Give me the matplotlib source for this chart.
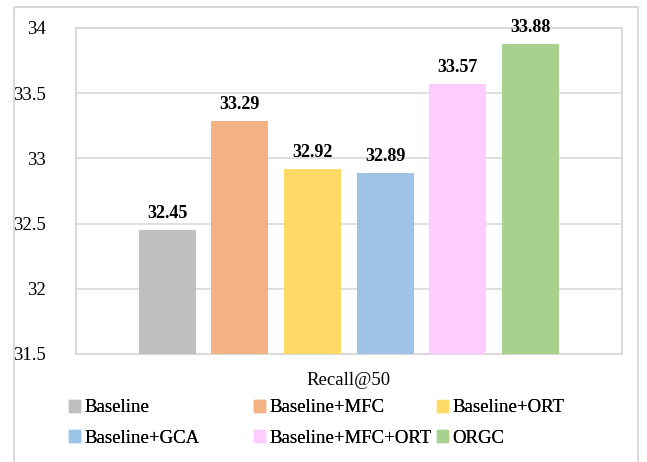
import matplotlib.pyplot as plt
import matplotlib.patches as mpatches
import numpy as np

# --- Data ---
methods = ['Baseline', 'Baseline+MFC', 'Baseline+ORT',
           'Baseline+GCA', 'Baseline+MFC+ORT', 'ORGC']
recall50 = [32.45, 33.29, 32.92, 32.89, 33.57, 33.88]
colors = ['#BFBFBF', '#F4B183', '#FFD966', '#9DC3E6', '#FFCCFF', '#A9D18E']
yticks = [31.5, 32, 32.5, 33, 33.5, 34]
ytick_labels = ['31.5', '32', '32.5', '33', '33.5', '34']

plt.rcParams['font.family'] = ['Liberation Serif', 'DejaVu Serif']

fig = plt.figure(figsize=(6.47, 4.62), dpi=100)
ax = fig.add_axes([76 / 647, 1 - 354 / 462, 546 / 647, 326 / 462])

x = np.arange(len(methods))
bars = ax.bar(x, recall50, width=0.784, color=colors, zorder=3)

for xi, v in zip(x, recall50):
    ax.text(xi, v + 0.06, f'{v:.2f}', ha='center', va='bottom',
            fontsize=13, fontweight='bold')

ax.set_xlim(-1.256, 6.262)
ax.set_ylim(31.5, 34)
ax.set_yticks(yticks)
ax.set_yticklabels(ytick_labels, fontsize=13.5)
ax.set_xticks([])
ax.tick_params(axis='y', length=0, pad=22)
ax.yaxis.grid(True, color='#D9D9D9', linewidth=1.2, zorder=0)
for s in ax.spines.values():
    s.set_color('#D9D9D9')
    s.set_linewidth(1.5)
ax.set_xlabel('Recall@50', fontsize=13.5, labelpad=13)

# legend: three columns, entries laid out row by row
col_x = [61, 246, 429]
for col in range(3):
    idx = [col, col + 3]
    handles = [mpatches.Patch(color=colors[i]) for i in idx]
    leg = fig.legend(handles, [methods[i] for i in idx], ncol=1, loc='upper left',
                     bbox_to_anchor=(col_x[col] / 647, 1 - 392 / 462), frameon=False,
                     fontsize=13.5, handlelength=0.6, handleheight=0.6,
                     handletextpad=0.25, labelspacing=0.72, borderaxespad=0)
    fig.add_artist(leg)

# outer frame
frame = mpatches.Rectangle((14 / 647, -0.05), (638 - 14) / 647, 1.05 - 7 / 462,
                           transform=fig.transFigure, fill=False,
                           edgecolor='#D9D9D9', linewidth=1.5)
fig.patches.append(frame)

fig.savefig('out.png', dpi=100)
